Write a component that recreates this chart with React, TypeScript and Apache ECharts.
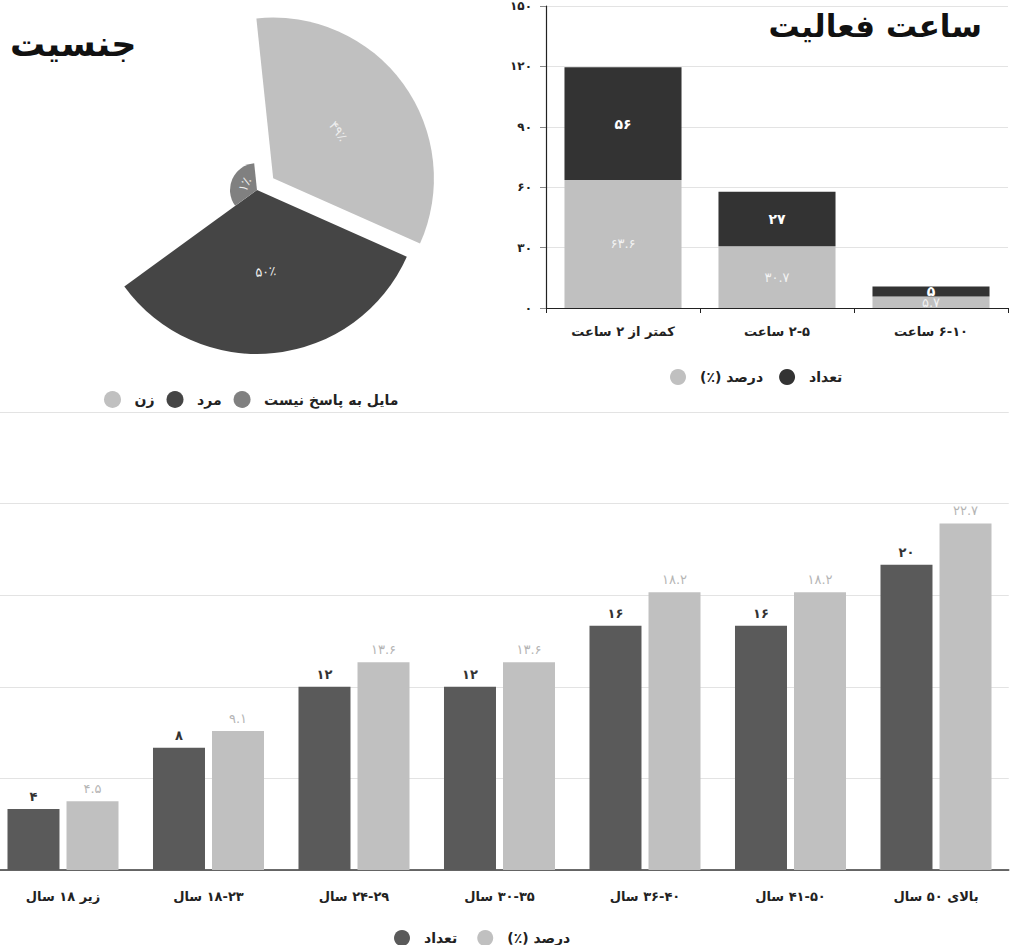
import React, { useEffect, useRef } from 'react';
import * as echarts from 'echarts';

const FONT = '"DejaVu Sans", sans-serif';
const RLM = '\u200F';

// Gender breakdown (percent)
const genderNames = ['زن', 'مرد', 'مایل به پاسخ نیست'];
const genderShares = [49, 50, 1];
const genderColors = ['#c0c0c0', '#454545', '#808080'];

// Daily activity hours
const hourCategories = ['کمتر از ۲ ساعت', '۲-۵ ساعت', '۶-۱۰ ساعت'];
const hourPercent = [63.6, 30.7, 5.7];
const hourCount = [56, 27, 5];

// Age groups
const ageCategories = [
  'زیر ۱۸ سال',
  '۱۸-۲۳ سال',
  '۲۴-۲۹ سال',
  '۳۰-۳۵ سال',
  '۳۶-۴۰ سال',
  '۴۱-۵۰ سال',
  'بالای ۵۰ سال',
];
const ageCount = [4, 8, 12, 12, 16, 16, 20];
const agePercent = [4.5, 9.1, 13.6, 13.6, 18.2, 18.2, 22.7];

const PERCENT_NAME = 'درصد (٪)';
const COUNT_NAME = 'تعداد';

// the canvas starts a little left of the page so the age chart can bleed off the edge
const SHIFT = 10;
const X = (v: number) => v + SHIFT;

const fa = (v: number | string) =>
  String(v).replace(/[0-9]/g, (d) => '۰۱۲۳۴۵۶۷۸۹'[Number(d)]);
const rtl = (s: string) => RLM + s + RLM;

const boldText = { fontFamily: FONT, fontWeight: 'bold' as const, color: '#222' };

// circle markers sit inside a wider box so the label keeps some distance
const legendBase = {
  icon: 'circle',
  itemWidth: 34,
  itemHeight: 16,
  itemGap: 12,
  formatter: rtl,
  textStyle: { ...boldText, fontSize: 14 },
};

function buildOption() {
  // the women's slice is pulled out from the centre along its mid angle
  const cx = X(257);
  const cy = 190;
  const pull = 20;
  const startAngle = 96;
  const midFromTop = 90 - startAngle + 60;
  const rad = (midFromTop * Math.PI) / 180;
  const pulledCenter = [cx + pull * Math.sin(rad), cy - pull * Math.cos(rad)];

  const genderSeries = genderNames.map((name, i) => ({
    type: 'bar',
    name,
    coordinateSystem: 'polar',
    polarIndex: i === 0 ? 1 : 0,
    data: genderNames.map((_, j) => (j === i ? genderShares[i] : '-')),
    barCategoryGap: '0%',
    barGap: '-100%',
    barMinHeight: 27,
    itemStyle: { color: genderColors[i] },
    label: {
      show: true,
      position: 'middle',
      formatter: (p: any) => fa(p.value) + '٪',
      color: '#eeeeee',
      fontSize: 13,
      fontFamily: FONT,
    },
  }));

  const polarAxes = [0, 1];

  return {
    animation: false,
    backgroundColor: '#ffffff',
    textStyle: { fontFamily: FONT },
    title: [
      {
        text: 'ساعت فعالیت',
        right: 29,
        top: 5,
        textStyle: { fontFamily: FONT, fontWeight: 'bold', fontSize: 31, color: '#111' },
      },
      {
        text: 'جنسیت',
        left: X(5),
        top: 21,
        textStyle: { fontFamily: FONT, fontWeight: 'bold', fontSize: 35, color: '#111' },
      },
    ],
    legend: [
      {
        ...legendBase,
        itemHeight: 17,
        data: genderNames,
        left: X(99),
        top: 386,
      },
      {
        ...legendBase,
        itemGap: 16,
        data: [
          { name: PERCENT_NAME, itemStyle: { color: '#c0c0c0' } },
          { name: COUNT_NAME, itemStyle: { color: '#333333' } },
        ],
        left: X(665),
        top: 364,
      },
      {
        ...legendBase,
        itemGap: 20,
        data: [
          { name: COUNT_NAME, itemStyle: { color: '#5a5a5a' } },
          { name: PERCENT_NAME, itemStyle: { color: '#c0c0c0' } },
        ],
        left: X(389),
        top: 925,
      },
    ],
    polar: [
      { center: [cx, cy], radius: 164 },
      { center: pulledCenter, radius: 164 },
    ],
    angleAxis: polarAxes.map((i) => ({
      polarIndex: i,
      type: 'category',
      data: genderNames,
      startAngle,
      clockwise: true,
      show: false,
      axisLine: { show: false },
      axisTick: { show: false },
      axisLabel: { show: false },
      splitLine: { show: false },
    })),
    radiusAxis: polarAxes.map((i) => ({
      polarIndex: i,
      type: 'value',
      min: 0,
      max: 50,
      show: false,
      axisLine: { show: false },
      axisTick: { show: false },
      axisLabel: { show: false },
      splitLine: { show: false },
    })),
    grid: [
      { left: X(546), top: 5, width: 462, height: 303 },
      { left: X(-9.75), top: 412, width: 1018.5, height: 458 },
    ],
    xAxis: [
      {
        gridIndex: 0,
        type: 'category',
        data: hourCategories,
        axisLine: { lineStyle: { color: '#222', width: 1.2 } },
        axisTick: { show: true, length: 5, lineStyle: { color: '#222' } },
        axisLabel: { ...boldText, fontSize: 13, margin: 17, formatter: rtl },
      },
      {
        gridIndex: 1,
        type: 'category',
        data: ageCategories,
        axisLine: { lineStyle: { color: '#3a3a3a', width: 1.5 } },
        axisTick: { show: false },
        axisLabel: { ...boldText, fontSize: 13, margin: 20, formatter: rtl },
      },
    ],
    yAxis: [
      {
        gridIndex: 0,
        type: 'value',
        min: 0,
        max: 150,
        interval: 30,
        axisLine: { show: true, lineStyle: { color: '#222', width: 1.2 } },
        axisTick: { show: true, length: 6, lineStyle: { color: '#888' } },
        axisLabel: { ...boldText, fontSize: 12, margin: 14, formatter: (v: number) => fa(v) },
        splitLine: { lineStyle: { color: '#e3e3e3' } },
      },
      {
        gridIndex: 1,
        type: 'value',
        min: 0,
        max: 30,
        interval: 6,
        axisLine: { show: false },
        axisTick: { show: false },
        axisLabel: { show: false },
        splitLine: { lineStyle: { color: '#e3e3e3' } },
      },
    ],
    series: [
      ...genderSeries,
      {
        type: 'bar',
        name: PERCENT_NAME,
        xAxisIndex: 0,
        yAxisIndex: 0,
        stack: 'hours',
        data: hourPercent,
        barCategoryGap: '24%',
        itemStyle: { color: '#c0c0c0' },
        label: {
          show: true,
          position: 'inside',
          formatter: (p: any) => fa(p.value),
          color: '#f2f2f2',
          fontSize: 13,
          fontFamily: FONT,
        },
      },
      {
        type: 'bar',
        name: COUNT_NAME,
        xAxisIndex: 0,
        yAxisIndex: 0,
        stack: 'hours',
        data: hourCount,
        barCategoryGap: '24%',
        itemStyle: { color: '#333333' },
        label: {
          show: true,
          position: 'inside',
          formatter: (p: any) => fa(p.value),
          color: '#ffffff',
          fontWeight: 'bold',
          fontSize: 14,
          fontFamily: FONT,
        },
      },
      {
        type: 'bar',
        name: COUNT_NAME,
        xAxisIndex: 1,
        yAxisIndex: 1,
        data: ageCount,
        barWidth: 52,
        barGap: '13.5%',
        itemStyle: { color: '#5a5a5a' },
        label: {
          show: true,
          position: 'top',
          distance: 6,
          formatter: (p: any) => fa(p.value),
          color: '#333',
          fontWeight: 'bold',
          fontSize: 13,
          fontFamily: FONT,
        },
      },
      {
        type: 'bar',
        name: PERCENT_NAME,
        xAxisIndex: 1,
        yAxisIndex: 1,
        data: agePercent,
        barWidth: 52,
        barGap: '13.5%',
        itemStyle: { color: '#c0c0c0' },
        label: {
          show: true,
          position: 'top',
          distance: 6,
          formatter: (p: any) => fa(p.value),
          color: '#b5b5b5',
          fontSize: 13,
          fontFamily: FONT,
        },
      },
    ],
  };
}

export default function App() {
  const ref = useRef<HTMLDivElement>(null);
  useEffect(() => {
    if (!ref.current) return;
    const chart = echarts.init(ref.current, null, { renderer: 'svg' });
    chart.setOption(buildOption() as any);
    return () => chart.dispose();
  }, []);
  return (
    <div
      ref={ref}
      style={{
        position: 'fixed',
        left: -SHIFT,
        top: 0,
        width: 1016 + SHIFT,
        height: 945,
        background: '#fff',
      }}
    />
  );
}
